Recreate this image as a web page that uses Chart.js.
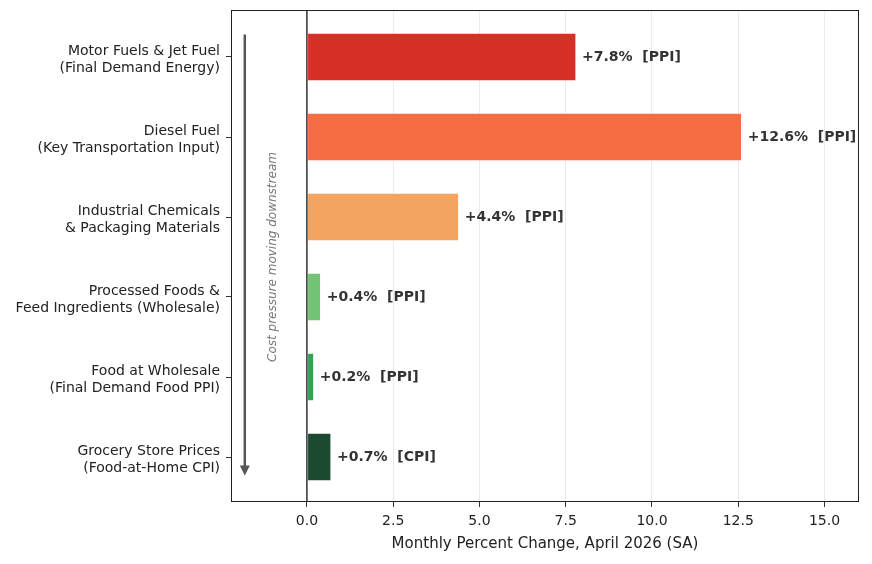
<!DOCTYPE html>
<html>
<head>
<meta charset="utf-8">
<script src="https://cdn.jsdelivr.net/npm/chart.js@4"></script>
<style>
  html, body { margin: 0; padding: 0; background: #fff; }
  #wrap { width: 872px; height: 564px; }
</style>
</head>
<body>
<div id="wrap"><canvas id="chart"></canvas></div>
<script>
// Supply-chain stages, top to bottom.
const categories = [
  ["Motor Fuels & Jet Fuel", "(Final Demand Energy)"],
  ["Diesel Fuel", "(Key Transportation Input)"],
  ["Industrial Chemicals", "& Packaging Materials"],
  ["Processed Foods &", "Feed Ingredients (Wholesale)"],
  ["Food at Wholesale", "(Final Demand Food PPI)"],
  ["Grocery Store Prices", "(Food-at-Home CPI)"],
];
const values = [7.8, 12.6, 4.4, 0.4, 0.2, 0.7];
const sources = ["PPI", "PPI", "PPI", "PPI", "PPI", "CPI"];
const barColors = ["#d73027", "#f46d43", "#f4a460", "#74c476", "#31a354", "#1b4a30"];
const xTicks = [0, 2.5, 5, 7.5, 10, 12.5, 15];
const xTitle = "Monthly Percent Change, April 2026 (SA)";
const arrowText = "Cost pressure moving downstream";

const FONT = "'DejaVu Sans', sans-serif";
const INK = "#222";

// Frame, zero line, bar value labels and the "downstream" arrow.
const decorPlugin = {
  id: "decor",
  afterDatasetsDraw(chart) {
    const c = chart.ctx;
    const xs = chart.scales.x, ys = chart.scales.y;
    const { left, right, top, bottom } = chart.chartArea;

    // zero line
    const x0 = xs.getPixelForValue(0);
    c.save();
    c.strokeStyle = "#333";
    c.lineWidth = 1.5;
    c.beginPath();
    c.moveTo(x0, top);
    c.lineTo(x0, bottom);
    c.stroke();

    // bar labels
    c.font = `bold 14px ${FONT}`;
    c.fillStyle = "#333";
    c.textBaseline = "middle";
    c.textAlign = "left";
    chart.getDatasetMeta(0).data.forEach((bar, i) => {
      const txt = `+${values[i].toFixed(1)}%  [${sources[i]}]`;
      c.fillText(txt, bar.x + 6, bar.y);
    });

    // arrow
    const ax = xs.getPixelForValue(-1.8);
    const ay1 = ys.getPixelForValue(-0.28);
    const ay2 = ys.getPixelForValue(5.23);
    c.strokeStyle = "#555";
    c.fillStyle = "#555";
    c.lineWidth = 2.5;
    c.beginPath();
    c.moveTo(ax, ay1);
    c.lineTo(ax, ay2 - 8);
    c.stroke();
    c.beginPath();
    c.moveTo(ax - 5, ay2 - 10);
    c.lineTo(ax + 5, ay2 - 10);
    c.lineTo(ax, ay2);
    c.closePath();
    c.fill();

    // arrow caption
    const tx = xs.getPixelForValue(-1.0);
    const ty = ys.getPixelForValue(2.5);
    c.translate(tx, ty);
    c.rotate(-Math.PI / 2);
    c.font = `italic 12px ${FONT}`;
    c.fillStyle = "#777";
    c.textAlign = "center";
    c.textBaseline = "middle";
    c.fillText(arrowText, 0, 0);
    c.restore();

    // frame
    c.save();
    c.strokeStyle = "#222";
    c.lineWidth = 1;
    c.strokeRect(left + 0.5, top + 0.5, right - left - 1, bottom - top - 1);
    c.restore();
  },
};

new Chart(document.getElementById("chart").getContext("2d"), {
  type: "bar",
  plugins: [decorPlugin],
  data: {
    datasets: [{
      data: values.map((v, i) => ({ x: v, y: i })),
      backgroundColor: barColors,
      borderColor: "rgba(255,255,255,0.45)",
      borderWidth: 1,
      borderSkipped: false,
      barThickness: 48,
    }],
  },
  options: {
    indexAxis: "y",
    responsive: true,
    maintainAspectRatio: false,
    animation: false,
    layout: { padding: { top: 10, right: 13, left: 0, bottom: 0 } },
    plugins: { legend: { display: false }, tooltip: { enabled: false } },
    scales: {
      x: {
        type: "linear",
        min: -2.2,
        max: 16,
        afterBuildTicks: (s) => { s.ticks = xTicks.map((v) => ({ value: v })); },
        afterFit: (s) => { s.height = 62; s.paddingLeft = 0; s.paddingRight = 0; },
        border: { display: false },
        grid: { color: "#ebebeb", lineWidth: 1, tickColor: "#333", tickLength: 5 },
        ticks: {
          padding: 6,
          color: INK,
          font: { family: FONT, size: 14 },
          callback: (v) => Number(v).toFixed(1),
        },
        title: {
          display: true,
          text: xTitle,
          color: INK,
          font: { family: FONT, size: 15 },
          padding: { top: 2, bottom: 11 },
        },
      },
      y: {
        type: "linear",
        reverse: true,
        offset: false,
        min: -0.5875,
        max: 5.5625,
        afterBuildTicks: (s) => { s.ticks = categories.map((_, i) => ({ value: i })); },
        afterFit: (s) => { s.width = 231; s.paddingTop = 0; s.paddingBottom = 0; },
        border: { display: false },
        grid: { offset: false, drawOnChartArea: false, tickColor: "#333", tickLength: 5 },
        ticks: {
          padding: 6,
          labelOffset: 3,
          color: INK,
          font: { family: FONT, size: 14, lineHeight: 1.2 },
          callback: (v) => categories[v] ?? "",
        },
      },
    },
  },
});
</script>
</body>
</html>
